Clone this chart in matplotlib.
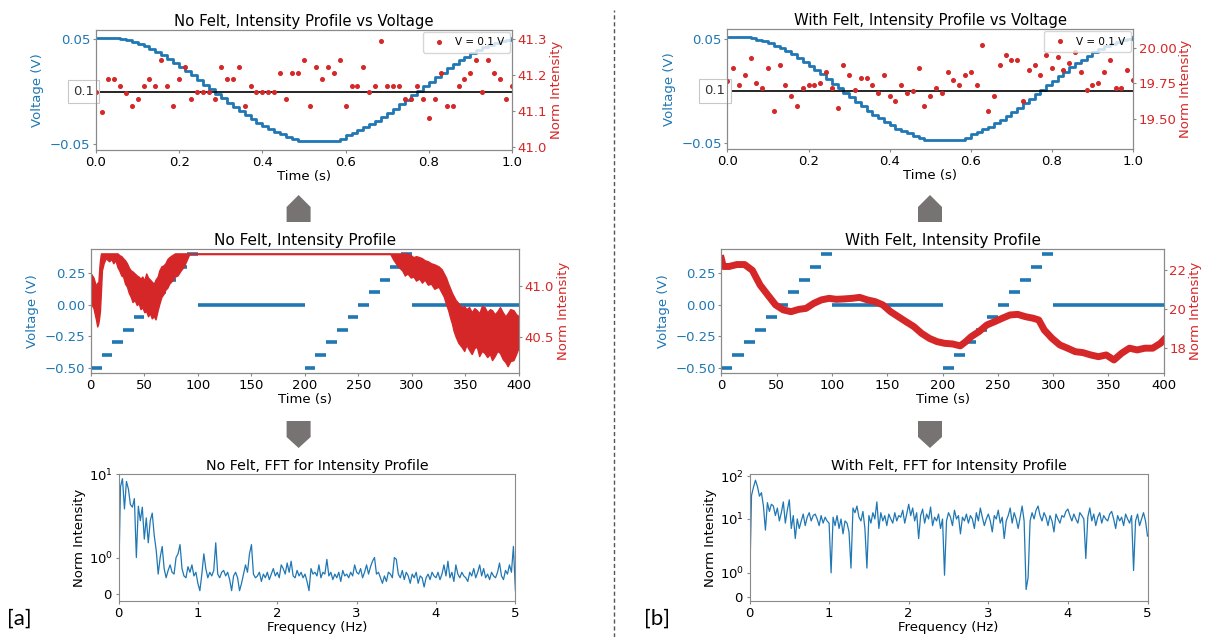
import numpy as np
import matplotlib
matplotlib.use('Agg')
import matplotlib.pyplot as plt
import matplotlib.patches as mpatches
import matplotlib.transforms as mtransforms
from matplotlib.lines import Line2D
from matplotlib.ticker import NullLocator

# ---- sweep (0-1 s) data ----
sweep_t = np.linspace(0, 1, 71)
sweep_v = [0.0515, 0.0515, 0.0515, 0.0515, 0.0505, 0.0491, 0.0476, 0.0457, 0.0433, 0.0408,
           0.0379, 0.0348, 0.0314, 0.0276, 0.0237, 0.0199, 0.0157, 0.0114, 0.0068, 0.0025,
           -0.0018, -0.0061, -0.0104, -0.0148, -0.0189, -0.0227, -0.0263, -0.0297, -0.0331, -0.0361,
           -0.0386, -0.0408, -0.0429, -0.0455, -0.047, -0.047, -0.047, -0.047, -0.047, -0.047,
           -0.047, -0.0455, -0.0417, -0.0395, -0.0369, -0.0342, -0.0311, -0.0278, -0.0239, -0.0202,
           -0.0162, -0.0121, -0.0080, -0.0033, 0.0010, 0.0053, 0.0096, 0.0139, 0.0183, 0.0224,
           0.0263, 0.0299, 0.0334, 0.0368, 0.0399, 0.0425, 0.0448, 0.0468, 0.0486, 0.0498, 0.0515]
nofelt_sweep = [41.152, 41.098, 41.188, 41.188, 41.170, 41.151, 41.115, 41.133, 41.170, 41.188,
                41.170, 41.242, 41.170, 41.115, 41.188, 41.224, 41.133, 41.152, 41.152, 41.152,
                41.133, 41.224, 41.188, 41.188, 41.224, 41.115, 41.170, 41.152, 41.152, 41.152,
                41.152, 41.206, 41.133, 41.206, 41.206, 41.242, 41.115, 41.224, 41.188, 41.224,
                41.206, 41.242, 41.115, 41.170, 41.170, 41.224, 41.152, 41.170, 41.296, 41.170,
                41.170, 41.170, 41.133, 41.133, 41.170, 41.133, 41.079, 41.133, 41.206, 41.115,
                41.115, 41.170, 41.188, 41.206, 41.242, 41.152, 41.242, 41.206, 41.188, 41.133, 41.170]
felt_sweep = [19.768, 19.859, 19.736, 19.808, 19.929, 19.752, 19.717, 19.859, 19.556, 19.878,
              19.736, 19.663, 19.591, 19.715, 19.736, 19.736, 19.752, 19.827, 19.715, 19.575,
              19.878, 19.808, 19.701, 19.787, 19.787, 19.736, 19.680, 19.808, 19.663, 19.626,
              19.736, 19.680, 19.698, 19.859, 19.591, 19.663, 19.717, 19.680, 19.827, 19.771,
              19.736, 19.808, 19.827, 19.736, 20.020, 19.556, 19.663, 19.878, 19.950, 19.913,
              19.913, 19.626, 19.843, 19.878, 19.808, 19.950, 19.859, 19.932, 19.843, 19.894,
              19.969, 19.827, 19.701, 19.736, 19.754, 19.827, 19.911, 19.717, 19.717, 19.843, 19.771]

# ---- full profile (0-400 s) data ----
step_t0 = [0, 10, 20, 30, 40, 50, 60, 70, 80, 90, 100, 200, 210, 220, 230, 240, 250, 260, 270, 280, 290, 300]
step_t1 = [10, 20, 30, 40, 50, 60, 70, 80, 90, 100, 200, 210, 220, 230, 240, 250, 260, 270, 280, 290, 300, 400]
step_v = [-0.5, -0.4, -0.3, -0.2, -0.1, 0.0, 0.1, 0.2, 0.3, 0.4, 0.0,
          -0.5, -0.4, -0.3, -0.2, -0.1, 0.0, 0.1, 0.2, 0.3, 0.4, 0.0]

# no felt: spread of the intensity readings (lower / upper edge)
nofelt_t = [0, 2.5, 5, 6, 7, 8, 8.6, 9.5, 10.4, 12, 14, 17, 19.4, 21, 23, 25, 26.6, 28.5, 30.2,
            32, 33.8, 35.5, 37.4, 39, 41, 43, 44.6, 46.5, 48.2, 50, 51.8, 53.5, 55.3, 57, 59,
            60.5, 62.5, 64, 66, 68, 69.7, 71.5, 73.3, 76, 78.7, 81, 84.1, 87, 89.5, 92,
            280, 282.5, 285, 288, 291, 293.5, 296, 299, 301.5, 304, 307, 309.5, 312, 315, 318,
            321, 325, 328, 330, 332, 334, 336, 337.5, 339, 341, 343.5, 346.5, 349, 351, 353.6,
            356, 358.5, 360.8, 363, 365.5, 368, 370.5, 373, 375, 377.5, 380, 382.4, 385, 387.5,
            389.6, 392, 395, 397.5, 400]
nofelt_lo = [40.83, 40.78, 40.66, 40.60, 40.63, 40.70, 40.76, 40.95, 41.15, 41.22, 41.27, 41.24,
             41.26, 41.22, 41.25, 41.18, 41.15, 41.10, 41.09, 41.02, 40.99, 40.93, 40.89, 40.84,
             40.86, 40.81, 40.83, 40.77, 40.79, 40.74, 40.75, 40.70, 40.73, 40.68, 40.70, 40.67,
             40.76, 40.82, 40.89, 40.92, 40.96, 40.98, 41.02, 41.05, 41.09, 41.10, 41.15, 41.19,
             41.25, 41.31,
             41.31, 41.26, 41.22, 41.18, 41.15, 41.10, 41.12, 41.08, 41.09, 41.05, 41.07, 41.03,
             41.06, 41.01, 41.02, 40.97, 40.99, 40.93, 40.89, 40.82, 40.76, 40.68, 40.63, 40.56,
             40.50, 40.44, 40.40, 40.36, 40.42, 40.37, 40.33, 40.39, 40.40, 40.31, 40.36, 40.34,
             40.30, 40.33, 40.27, 40.31, 40.36, 40.34, 40.28, 40.25, 40.21, 40.26, 40.27, 40.33,
             40.40]
nofelt_hi = [41.12, 41.08, 40.99, 41.03, 41.02, 41.18, 41.25, 41.317, 41.317, 41.317, 41.317,
             41.317, 41.317, 41.317, 41.317, 41.317, 41.30, 41.29, 41.27, 41.25, 41.22, 41.18,
             41.15, 41.14, 41.12, 41.10, 41.09, 41.07, 41.09, 41.05, 41.12, 41.08, 41.06, 41.04,
             41.02, 41.06, 41.09, 41.15, 41.19, 41.20, 41.22, 41.26, 41.28, 41.30, 41.317, 41.317,
             41.317, 41.317, 41.317, 41.317,
             41.317, 41.317, 41.317, 41.317, 41.317, 41.317, 41.317, 41.30, 41.28, 41.29, 41.28,
             41.27, 41.25, 41.24, 41.22, 41.21, 41.19, 41.16, 41.12, 41.08, 41.02, 40.97, 40.93,
             40.90, 40.86, 40.83, 40.79, 40.80, 40.77, 40.79, 40.74, 40.78, 40.76, 40.73, 40.80,
             40.79, 40.74, 40.77, 40.76, 40.72, 40.75, 40.79, 40.74, 40.70, 40.73, 40.77, 40.76,
             40.72, 40.70]

# with felt: intensity trace
felt_t = [0, 1.7, 7, 14, 21, 28, 31, 35, 42, 49, 56, 63, 70, 76.5, 83.5, 90.4, 97.4, 104, 111, 118,
          125, 132, 139, 146, 153, 160, 167, 174, 181, 188, 195, 202, 209, 216, 221, 226, 233, 240,
          247, 254, 261, 268, 275, 282, 287, 292, 299, 306, 313, 320, 327, 334, 341, 348, 355, 362,
          369, 376, 383, 390, 397, 400]
felt_i = [22.6, 22.2, 22.2, 22.3, 22.3, 22.0, 21.67, 21.24, 20.72, 20.21, 19.95, 19.86, 19.98, 20.03,
          20.29, 20.47, 20.55, 20.50, 20.52, 20.55, 20.60, 20.47, 20.38, 20.21, 19.86, 19.60, 19.34,
          19.09, 18.74, 18.48, 18.31, 18.22, 18.19, 18.09, 18.31, 18.57, 18.83, 19.17, 19.34, 19.52,
          19.69, 19.72, 19.60, 19.52, 19.43, 18.91, 18.48, 18.14, 17.97, 17.79, 17.74, 17.62, 17.53,
          17.62, 17.36, 17.71, 17.97, 17.88, 17.97, 17.97, 18.22, 18.40]

# ---- FFT spectra (0-5 Hz) ----
freq = np.linspace(0, 5, 201)
nofelt_fft = [0.05, 6.5, 8.6, 3.0, 7.8, 6.0, 3.5, 3.2, 4.3, 1.0,
              3.3, 2.0, 3.2, 1.5, 2.2, 1.4, 2.0, 2.6, 1.6, 1.2,
              0.55, 1.0, 1.3, 0.7, 0.45, 0.65, 0.8, 0.6, 0.55, 1.0,
              1.1, 1.35, 0.7, 0.5, 0.45, 0.75, 0.6, 0.8, 0.5, 0.6,
              0.3, 0.1, 0.55, 1.1, 0.7, 0.45, 0.6, 0.5, 0.65, 1.4,
              0.55, 0.45, 0.6, 0.65, 0.5, 0.6, 0.4, 0.1, 0.5, 0.6,
              0.45, 0.1, 0.3, 0.55, 0.8, 0.6, 1.1, 1.35, 0.55, 0.45,
              0.5, 0.6, 0.35, 0.55, 0.45, 0.6, 0.4, 0.55, 0.7, 0.5,
              0.6, 0.45, 0.8, 0.7, 0.55, 0.85, 0.6, 0.9, 0.5, 0.45,
              0.65, 0.5, 0.6, 0.45, 0.55, 0.35, 0.1, 0.7, 0.55, 0.6,
              0.5, 0.8, 0.45, 0.6, 0.55, 0.95, 0.5, 0.6, 0.4, 0.55,
              0.45, 0.6, 0.35, 0.65, 0.5, 0.55, 0.45, 0.6, 0.5, 0.8,
              0.6, 0.55, 0.7, 0.45, 0.6, 0.8, 0.55, 0.75, 0.9, 1.0,
              0.55, 0.6, 0.45, 0.3, 0.5, 0.35, 0.6, 0.55, 0.45, 1.0,
              0.95, 0.55, 0.45, 0.65, 0.4, 0.6, 0.5, 0.3, 0.55, 0.45,
              0.6, 0.3, 0.5, 0.45, 0.2, 0.45, 0.55, 0.4, 0.6, 0.5,
              0.45, 0.6, 0.4, 0.55, 0.8, 0.5, 0.9, 0.45, 0.6, 0.35,
              0.8, 0.55, 0.45, 0.6, 0.5, 0.45, 0.35, 0.6, 0.5, 0.7,
              0.45, 0.6, 0.8, 0.5, 0.7, 0.45, 0.55, 0.4, 0.6, 0.5,
              0.45, 0.6, 0.85, 0.5, 0.4, 0.65, 0.55, 0.8, 0.6, 1.3,
              0.1]
felt_fft = [0.05, 35, 55, 80, 57, 34, 41, 20, 5.5, 24,
            15, 22, 20, 12, 18, 9, 14, 25, 8, 16,
            28, 6, 12, 3.5, 10, 6, 9, 13, 7, 11,
            14, 9, 12, 13, 10, 7, 12, 8, 11, 9,
            8, 1.0, 11, 7, 12, 6, 10, 4.5, 9, 8,
            5, 1.2, 18, 14, 20, 11, 9, 15, 6, 1.2,
            12, 8, 14, 10, 25, 6, 14, 9, 12, 7,
            13, 10, 8, 14, 9, 12, 11, 16, 8, 13,
            22, 12, 18, 9, 14, 3.5, 12, 17, 8, 13,
            10, 19, 7, 11, 9, 13, 6, 10, 0.9, 9,
            14, 11, 7, 16, 10, 12, 4.5, 11, 9, 13,
            8, 12, 10, 6, 14, 9, 18, 11, 7, 10,
            13, 9, 5, 12, 10, 16, 8, 11, 3.5, 9,
            12, 18, 8, 14, 10, 6, 11, 20, 9, 0.3,
            0.8, 9, 14, 10, 16, 20, 12, 9, 14, 11,
            7, 12, 9, 5, 13, 10, 8, 12, 11, 15,
            17, 12, 9, 13, 10, 8, 14, 12, 10, 1.6,
            11, 18, 9, 13, 7, 11, 14, 8, 12, 10,
            9, 13, 15, 10, 6, 12, 9, 11, 7, 13,
            10, 8, 12, 1.1, 9, 13, 7, 10, 14, 9,
            4]

BLUE = '#1f77b4'
RED = '#d62728'
FRAME = '#8a8a8a'
ARROW = '#777373'
W, H = 1206, 637

plt.rcParams['font.size'] = 9.5
plt.rcParams['xtick.labelsize'] = 9.5
plt.rcParams['ytick.labelsize'] = 9.5
plt.rcParams['xtick.major.size'] = 2.5
plt.rcParams['ytick.major.size'] = 2.5
plt.rcParams['xtick.major.pad'] = 1.5
plt.rcParams['ytick.major.pad'] = 1.5

fig = plt.figure(figsize=(W / 100, H / 100), dpi=100)


def px_box(x0, y0, x1, y1):
    # pixel box (top-left origin) -> figure fraction rect
    return [x0 / W, 1 - y1 / H, (x1 - x0) / W, (y1 - y0) / H]


def frame(ax):
    for sp in ax.spines.values():
        sp.set_color(FRAME)
    ax.tick_params(which='both', color=FRAME)


def sweep_panel(box, title, intensity, r_lim, r_ticks, r_fmt):
    ax = fig.add_axes(px_box(*box))
    ax.plot(sweep_t, sweep_v, drawstyle='steps-post', color=BLUE, lw=2.0)
    ax.axhline(0, color='black', lw=1.2)
    ax.set_xlim(0, 1)
    ax.set_ylim(-0.0557, 0.0589)
    ax.set_yticks([-0.05, 0.05])
    ax.tick_params(axis='y', labelcolor=BLUE)
    ax.set_ylabel('Voltage (V)', color=BLUE)
    ax.set_xlabel('Time (s)', labelpad=1)
    ax.set_title(title, fontsize=10.7, pad=3)
    trans = mtransforms.blended_transform_factory(ax.transAxes, ax.transData)
    ax.text(-0.005, 0, '0.1', transform=trans, ha='right', va='center', color='#333333',
            fontsize=9.5, clip_on=False, zorder=5,
            bbox=dict(boxstyle='square,pad=0.4', fc='white', ec='#c8c8c8', lw=0.8))
    frame(ax)

    ax2 = ax.twinx()
    ax2.plot(sweep_t, intensity, 'o', color=RED, ms=2.6, label='V = 0.1 V')
    ax2.set_ylim(*r_lim)
    ax2.set_yticks(r_ticks)
    ax2.set_yticklabels([r_fmt.format(v) for v in r_ticks])
    ax2.tick_params(axis='y', labelcolor=RED)
    ax2.set_ylabel('Norm Intensity', color=RED, labelpad=2)
    ax2.legend(loc='upper right', fontsize=7.5, borderaxespad=0.2, handletextpad=0.6,
               borderpad=0.5, framealpha=0.8)
    frame(ax2)
    return ax, ax2


def profile_axes(box, title):
    ax = fig.add_axes(px_box(*box))
    ax.hlines(step_v, step_t0, step_t1, color=BLUE, lw=2.6)
    ax.set_xlim(0, 400)
    ax.set_ylim(-0.545, 0.445)
    ax.set_xticks(range(0, 401, 50))
    ax.set_yticks([-0.5, -0.25, 0, 0.25])
    ax.tick_params(axis='y', labelcolor=BLUE)
    ax.set_ylabel('Voltage (V)', color=BLUE)
    ax.set_xlabel('Time (s)', labelpad=1)
    ax.set_title(title, fontsize=11, pad=3)
    frame(ax)
    ax2 = ax.twinx()
    ax2.tick_params(axis='y', labelcolor=RED)
    ax2.set_ylabel('Norm Intensity', color=RED, labelpad=2)
    frame(ax2)
    return ax, ax2


def fft_panel(box, title, amp, top, ticks):
    ax = fig.add_axes(px_box(*box))
    ax.plot(freq, amp, color=BLUE, lw=0.9)
    ax.set_yscale('symlog')
    ax.set_xlim(0, 5)
    ax.set_ylim(-0.18, top)
    ax.set_yticks(ticks)
    ax.yaxis.set_minor_locator(NullLocator())
    ax.set_xlabel('Frequency (Hz)', labelpad=1)
    ax.set_ylabel('Norm Intensity', labelpad=2)
    ax.set_title(title, fontsize=10.3, pad=3)
    frame(ax)
    return ax


# top row: one period of the sweep
sweep_panel((96, 30, 512, 150), 'No Felt, Intensity Profile vs Voltage', nofelt_sweep,
            (40.991, 41.326), [41.0, 41.1, 41.2, 41.3], '{:.1f}')
sweep_panel((727.5, 29.3, 1133, 149), 'With Felt, Intensity Profile vs Voltage', felt_sweep,
            (19.29, 20.129), [19.5, 19.75, 20.0], '{:.2f}')

# middle row: whole recording
ax, ax2 = profile_axes((90.8, 248.7, 518.8, 373.3), 'No Felt, Intensity Profile')
ax2.fill_between(nofelt_t, nofelt_lo, nofelt_hi, color=RED, edgecolor=RED, lw=1.0)
ax2.set_ylim(40.141, 41.363)
ax2.set_yticks([40.5, 41.0])

ax, ax2 = profile_axes((721.4, 248.7, 1163.7, 373.3), 'With Felt, Intensity Profile')
ax2.plot(felt_t, felt_i, color=RED, lw=5.0, solid_joinstyle='round')
ax2.set_ylim(16.67, 23.12)
ax2.set_yticks([18, 20, 22])

# bottom row: spectra
fft_panel((118.5, 474.3, 515.4, 601), 'No Felt, FFT for Intensity Profile', nofelt_fft, 10, [0, 1, 10])
fft_panel((749.5, 474.3, 1147.5, 601), 'With Felt, FFT for Intensity Profile', felt_fft, 109.7, [0, 1, 10, 100])


# flow arrows between rows
def flow_arrow(cx, base, neck, tip, half=12):
    pts = [(cx - half, base), (cx + half, base), (cx + half, neck), (cx, tip), (cx - half, neck)]
    pts = [(x / W, 1 - y / H) for x, y in pts]
    fig.add_artist(mpatches.Polygon(pts, closed=True, transform=fig.transFigure,
                                    facecolor=ARROW, edgecolor='none'))


for cx in (298.6, 930):
    flow_arrow(cx, 222, 207, 195)
    flow_arrow(cx, 421, 437, 448)

# divider between the two cases
fig.add_artist(Line2D([614 / W, 614 / W], [0.0, 0.985], transform=fig.transFigure,
                      color='#555555', lw=1.0, linestyle=(0, (3, 2))))

fig.text(7 / W, 1 - 619 / H, '[a]', fontsize=16, ha='left', va='center', family='Lato')
fig.text(644 / W, 1 - 619 / H, '[b]', fontsize=16, ha='left', va='center', family='Lato')

fig.savefig('out.png', dpi=100)
